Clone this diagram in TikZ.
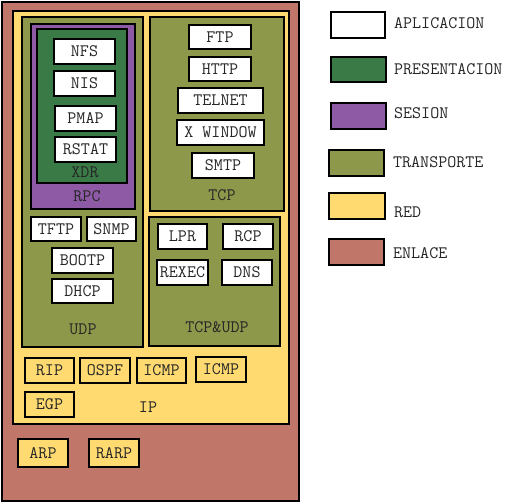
\documentclass[tikz,border=0pt]{standalone}
\definecolor{enl}{HTML}{C07769}
\definecolor{red}{HTML}{FFDA70}
\definecolor{tra}{HTML}{8E984A}
\definecolor{pre}{HTML}{3A7A46}
\definecolor{ses}{HTML}{8F5AA5}
\newcommand\bx[7]{%
  \node[bs, fill=#6, minimum width={(#4-#2)*1pt}, minimum height={(#5-#3)*1pt}]
    (#1) at ({(#2+#4)/2},{(#3+#5)/2}) {#7};}
\begin{document}
\begin{tikzpicture}[x=1pt,y=-1pt,
  bs/.style={draw=black, line width=1.6pt, inner sep=0pt, outer sep=0pt,
    font=\ttfamily\fontsize{17.5}{20}\selectfont, text=black!85},
  lbl/.style={inner sep=0pt, font=\ttfamily\fontsize{17.5}{20}\selectfont, text=black!85},
  leg/.style={lbl, anchor=west}]
\useasboundingbox (0,0) rectangle (511,503);
% containers
\bx{enlace}{2}{2}{299}{501}{enl}{}
\bx{ip}{13}{11}{289}{424}{red}{}
\bx{udp}{22}{17}{143}{347}{tra}{}
\bx{rpc}{31}{24}{135}{209}{ses}{}
\bx{xdr}{37}{29}{127}{183}{pre}{}
\bx{tcp}{150}{17}{284}{211}{tra}{}
\bx{tcpudp}{149}{217}{280}{346}{tra}{}
% application boxes
\bx{nfs}{54}{39}{115}{64}{white}{NFS}
\bx{nis}{54}{71}{115}{96}{white}{NIS}
\bx{pmap}{55}{106}{116}{131}{white}{PMAP}
\bx{rstat}{55}{137}{116}{162}{white}{RSTAT}
\bx{ftp}{189}{25}{251}{49}{white}{FTP}
\bx{http}{189}{57}{251}{81}{white}{HTTP}
\bx{telnet}{178}{88}{263}{113}{white}{TELNET}
\bx{xwin}{177}{120}{264}{145}{white}{X WINDOW}
\bx{smtp}{192}{153}{254}{178}{white}{SMTP}
\bx{tftp}{31}{217}{81}{241}{white}{TFTP}
\bx{snmp}{87}{217}{136}{241}{white}{SNMP}
\bx{bootp}{52}{248}{113}{273}{white}{BOOTP}
\bx{dhcp}{52}{279}{113}{303}{white}{DHCP}
\bx{lpr}{158}{224}{207}{249}{white}{LPR}
\bx{rcp}{223}{224}{273}{249}{white}{RCP}
\bx{rexec}{157}{260}{208}{285}{white}{REXEC}
\bx{dns}{222}{260}{272}{285}{white}{DNS}
% network boxes
\bx{rip}{25}{358}{74}{383}{red}{RIP}
\bx{ospf}{80}{358}{130}{383}{red}{OSPF}
\bx{icmpa}{137}{358}{186}{383}{red}{ICMP}
\bx{icmpb}{196}{357}{246}{382}{red}{ICMP}
\bx{egp}{25}{392}{74}{417}{red}{EGP}
\bx{arp}{18}{439}{68}{467}{red}{ARP}
\bx{rarp}{89}{439}{139}{467}{red}{RARP}
% container labels
\node[lbl] (lxdr) at (85,172) {XDR};
\node[lbl] (lrpc) at (87,196) {RPC};
\node[lbl] (ltcp) at (222,195) {TCP};
\node[lbl] (ludp) at (83,329) {UDP};
\node[lbl] (ltu) at (217,327) {TCP\&UDP};
\node[lbl] (lip) at (148,407) {IP};
% legend
\bx{k1}{331}{12}{385}{38}{white}{}
\bx{k2}{331}{57}{386}{82}{pre}{}
\bx{k3}{331}{103}{386}{129}{ses}{}
\bx{k4}{329}{150}{384}{176}{tra}{}
\bx{k5}{329}{193}{385}{219}{red}{}
\bx{k6}{329}{239}{384}{265}{enl}{}
\node[leg] (t1) at (394,23) {APLICACION};
\node[leg] (t2) at (394,69) {PRESENTACION};
\node[leg] (t3) at (394,113) {SESION};
\node[leg] (t4) at (393,162) {TRANSPORTE};
\node[leg] (t5) at (394,212) {RED};
\node[leg] (t6) at (393,253) {ENLACE};
\end{tikzpicture}
\end{document}
